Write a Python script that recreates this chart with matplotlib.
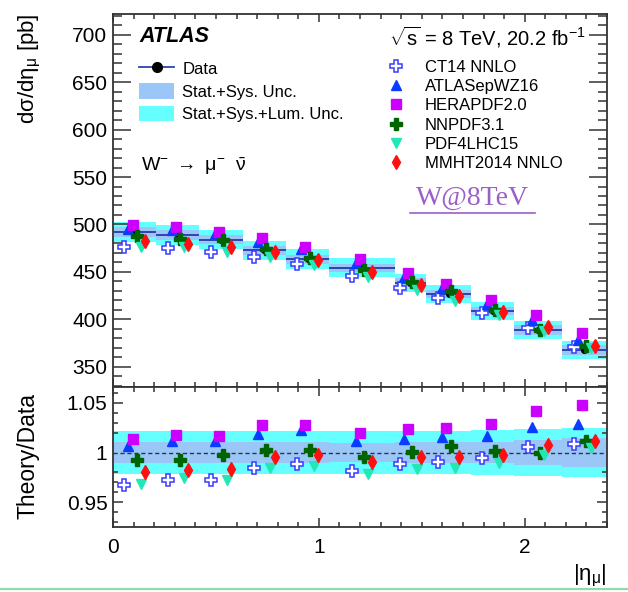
import numpy as np
import matplotlib.pyplot as plt
from matplotlib.lines import Line2D
from matplotlib.patches import Patch
from matplotlib.ticker import MultipleLocator

plt.rcParams['font.family'] = ['Liberation Sans', 'DejaVu Sans']
plt.rcParams['mathtext.fontset'] = 'custom'
plt.rcParams['mathtext.rm'] = 'Liberation Sans'
plt.rcParams['mathtext.it'] = 'Liberation Sans:italic'
plt.rcParams['mathtext.default'] = 'regular'

# |eta_mu| binning
eta_edges = np.array([0.0, 0.21, 0.42, 0.63, 0.84, 1.05, 1.37, 1.52, 1.74, 1.95, 2.18, 2.4])

# measured W- -> mu- nu cross section [pb]
data_xsec = np.array([492.1, 488.6, 484.1, 472.8, 463.4, 454.2, 438.4, 426.5, 408.9, 388.6, 367.6])
# relative uncertainties [%]
unc_statsys = np.array([1.05, 1.05, 1.05, 1.05, 1.05, 1.0, 1.05, 1.05, 1.1, 1.25, 1.45])
unc_total = np.array([2.15, 2.15, 2.15, 2.15, 2.2, 2.2, 2.2, 2.2, 2.25, 2.35, 2.5])

# theory / data
ratio_ct14 = np.array([0.967, 0.972, 0.972, 0.984, 0.988, 0.981, 0.988, 0.990, 0.994, 1.006, 1.009])
ratio_atlas = np.array([1.007, 1.012, 1.012, 1.019, 1.023, 1.012, 1.014, 1.016, 1.017, 1.026, 1.029])
ratio_hera = np.array([1.014, 1.018, 1.017, 1.028, 1.028, 1.020, 1.024, 1.025, 1.029, 1.042, 1.048])
ratio_nnpdf = np.array([0.992, 0.992, 0.998, 1.003, 1.003, 0.995, 1.001, 1.007, 1.002, 1.000, 1.012])
ratio_pdf4lhc = np.array([0.968, 0.974, 0.972, 0.984, 0.986, 0.978, 0.983, 0.984, 0.989, 0.998, 1.005])
ratio_mmht = np.array([0.980, 0.982, 0.983, 0.995, 0.998, 0.990, 0.995, 0.995, 0.998, 1.008, 1.012])

labels = ['CT14 NNLO', 'ATLASepWZ16', 'HERAPDF2.0', 'NNPDF3.1', 'PDF4LHC15', 'MMHT2014 NNLO']
ratios = [ratio_ct14, ratio_atlas, ratio_hera, ratio_nnpdf, ratio_pdf4lhc, ratio_mmht]
shifts = [-0.05, -0.03, -0.01, 0.01, 0.03, 0.05]
styles = [
    dict(marker='P', ms=8, mfc='white', mec='#3a3aff', mew=1.1),
    dict(marker='^', ms=7.5, mfc='#0a3cff', mec='#0a3cff'),
    dict(marker='s', ms=7, mfc='#cc00ff', mec='#cc00ff'),
    dict(marker='P', ms=8, mfc='#006400', mec='#006400'),
    dict(marker='v', ms=7.5, mfc='#22e8b8', mec='#22e8b8'),
    dict(marker='d', ms=7, mfc='#ff1010', mec='#ff1010'),
]
draw_order = [0, 1, 2, 4, 3, 5]

centers = 0.5 * (eta_edges[:-1] + eta_edges[1:])
widths = np.diff(eta_edges)
col_tot = '#66ffff'
col_sys = '#9ac6f8'

fig = plt.figure(figsize=(6.28, 5.92), dpi=100)
L, R = 113 / 628, 607 / 628
ax = fig.add_axes([L, 1 - 387 / 592, R - L, (387 - 14) / 592])
axr = fig.add_axes([L, 1 - 527 / 592, R - L, (527 - 387) / 592], sharex=ax)

# --- cross section panel
tot_abs = data_xsec * unc_total / 100
sys_abs = data_xsec * unc_statsys / 100
ax.bar(eta_edges[:-1], 2 * tot_abs, bottom=data_xsec - tot_abs, width=widths,
       align='edge', color=col_tot, lw=0, zorder=1)
ax.bar(eta_edges[:-1], 2 * sys_abs, bottom=data_xsec - sys_abs, width=widths,
       align='edge', color=col_sys, lw=0, zorder=2)
ax.errorbar(centers, data_xsec, xerr=widths / 2, fmt='o', color='#2b45b0',
            mfc='black', mec='black', ms=4, lw=1.4, capsize=0, zorder=3)
for i in draw_order:
    ax.plot(centers + shifts[i], data_xsec * ratios[i], ls='none', zorder=4 + i, **styles[i])

ax.set_xlim(0, 2.4)
ax.set_ylim(328.5, 722)
ax.yaxis.set_major_locator(MultipleLocator(50))
ax.yaxis.set_minor_locator(MultipleLocator(10))
ax.xaxis.set_major_locator(MultipleLocator(1))
ax.xaxis.set_minor_locator(MultipleLocator(0.1))
ax.tick_params(axis='x', which='both', labelbottom=False)

# --- ratio panel
axr.fill_between(eta_edges, np.r_[1 - unc_total / 100, 1 - unc_total[-1] / 100],
                 np.r_[1 + unc_total / 100, 1 + unc_total[-1] / 100],
                 step='post', color=col_tot, lw=0, zorder=1)
axr.fill_between(eta_edges, np.r_[1 - unc_statsys / 100, 1 - unc_statsys[-1] / 100],
                 np.r_[1 + unc_statsys / 100, 1 + unc_statsys[-1] / 100],
                 step='post', color=col_sys, lw=0, zorder=2)
axr.axhline(1, color='#333333', ls=(0, (3, 2)), lw=1, zorder=3)
for i in draw_order:
    axr.plot(centers + shifts[i], ratios[i], ls='none', zorder=4 + i, **styles[i])
axr.set_ylim(0.925, 1.066)
axr.yaxis.set_major_locator(MultipleLocator(0.05))
axr.yaxis.set_minor_locator(MultipleLocator(0.01))
axr.set_yticks([0.95, 1.0, 1.05])
axr.set_yticklabels(['0.95', '1', '1.05'])
axr.set_xticks([0, 1, 2])
axr.set_xticklabels(['0', '1', '2'])

for a in (ax, axr):
    for s in a.spines.values():
        s.set_color('#333333')
        s.set_linewidth(1.3)
    a.tick_params(which='both', direction='in', top=True, right=True,
                  color='#333333', width=1.1, labelsize=15, pad=4)
ax.tick_params(axis='y', which='major', length=13)
ax.tick_params(axis='y', which='minor', length=6.5)
ax.tick_params(axis='x', which='major', length=5.5)
ax.tick_params(axis='x', which='minor', length=3.5)
axr.tick_params(axis='y', which='major', length=7.5)
axr.tick_params(axis='y', which='minor', length=3.8)
axr.tick_params(axis='x', which='major', length=6.5, pad=8)
axr.tick_params(axis='x', which='minor', length=3.5)

# --- labels and annotations
fig.text(30 / 628, 1 - 13 / 592, r'd$\sigma$/d$\eta_{\mu}$ [pb]', rotation=90,
         ha='center', va='top', fontsize=16)
fig.text(28 / 628, 1 - 456 / 592, 'Theory/Data', rotation=90,
         ha='center', va='center', fontsize=16.5)
fig.text(607 / 628, 1 - 576 / 592, r'|$\eta_{\mu}$|', ha='right', va='center', fontsize=16)

fig.text(139 / 628, 1 - 37 / 592, 'ATLAS', fontsize=15.5, fontweight='bold',
         fontstyle='italic', ha='left', va='center')
fig.text(389 / 628, 1 - 37 / 592, r'$\sqrt{s}$ = 8 TeV, 20.2 fb$^{-1}$',
         fontsize=14.5, ha='left', va='center')
fig.text(141 / 628, 1 - 166 / 592, r'W$^{-}$ $\rightarrow$ $\mu^{-}$  $\bar{\nu}$',
         fontsize=14, ha='left', va='center')

fig.text(472 / 628, 1 - 198 / 592, 'W@8TeV', fontsize=20, family='Liberation Serif',
         color='#9a5fc8', ha='center', va='center')
fig.add_artist(Line2D([410 / 628, 535 / 628], [1 - 213 / 592] * 2,
                      color='#9a5fc8', lw=1.2))

# legends
h_left = [Line2D([], [], color='#2b45b0', marker='o', mfc='black', mec='black', ms=7, lw=1.3),
          Patch(fc=col_sys, ec='none'), Patch(fc=col_tot, ec='none')]
leg1 = ax.legend(h_left, ['Data', 'Stat.+Sys. Unc.', 'Stat.+Sys.+Lum. Unc.'],
                 loc='upper left', bbox_to_anchor=(139 / 628, 1 - 60.5 / 592),
                 bbox_transform=fig.transFigure, frameon=False, fontsize=12,
                 borderpad=0, borderaxespad=0, handlelength=2.1, handleheight=1.08,
                 handletextpad=0.5, labelspacing=0.36)
ax.add_artist(leg1)
h_right = [Line2D([], [], ls='none', **styles[i]) for i in range(6)]
ax.legend(h_right, labels, loc='upper left', bbox_to_anchor=(388 / 628, 1 - 60 / 592),
          bbox_transform=fig.transFigure, frameon=False, fontsize=12,
          borderpad=0, borderaxespad=0, handlelength=1.0, handletextpad=1.2,
          labelspacing=0.25)

fig.add_artist(Line2D([0, 1], [1 - 588.5 / 592] * 2, color='#8fdcaa', lw=1.6))

fig.savefig('out.png', dpi=100)
